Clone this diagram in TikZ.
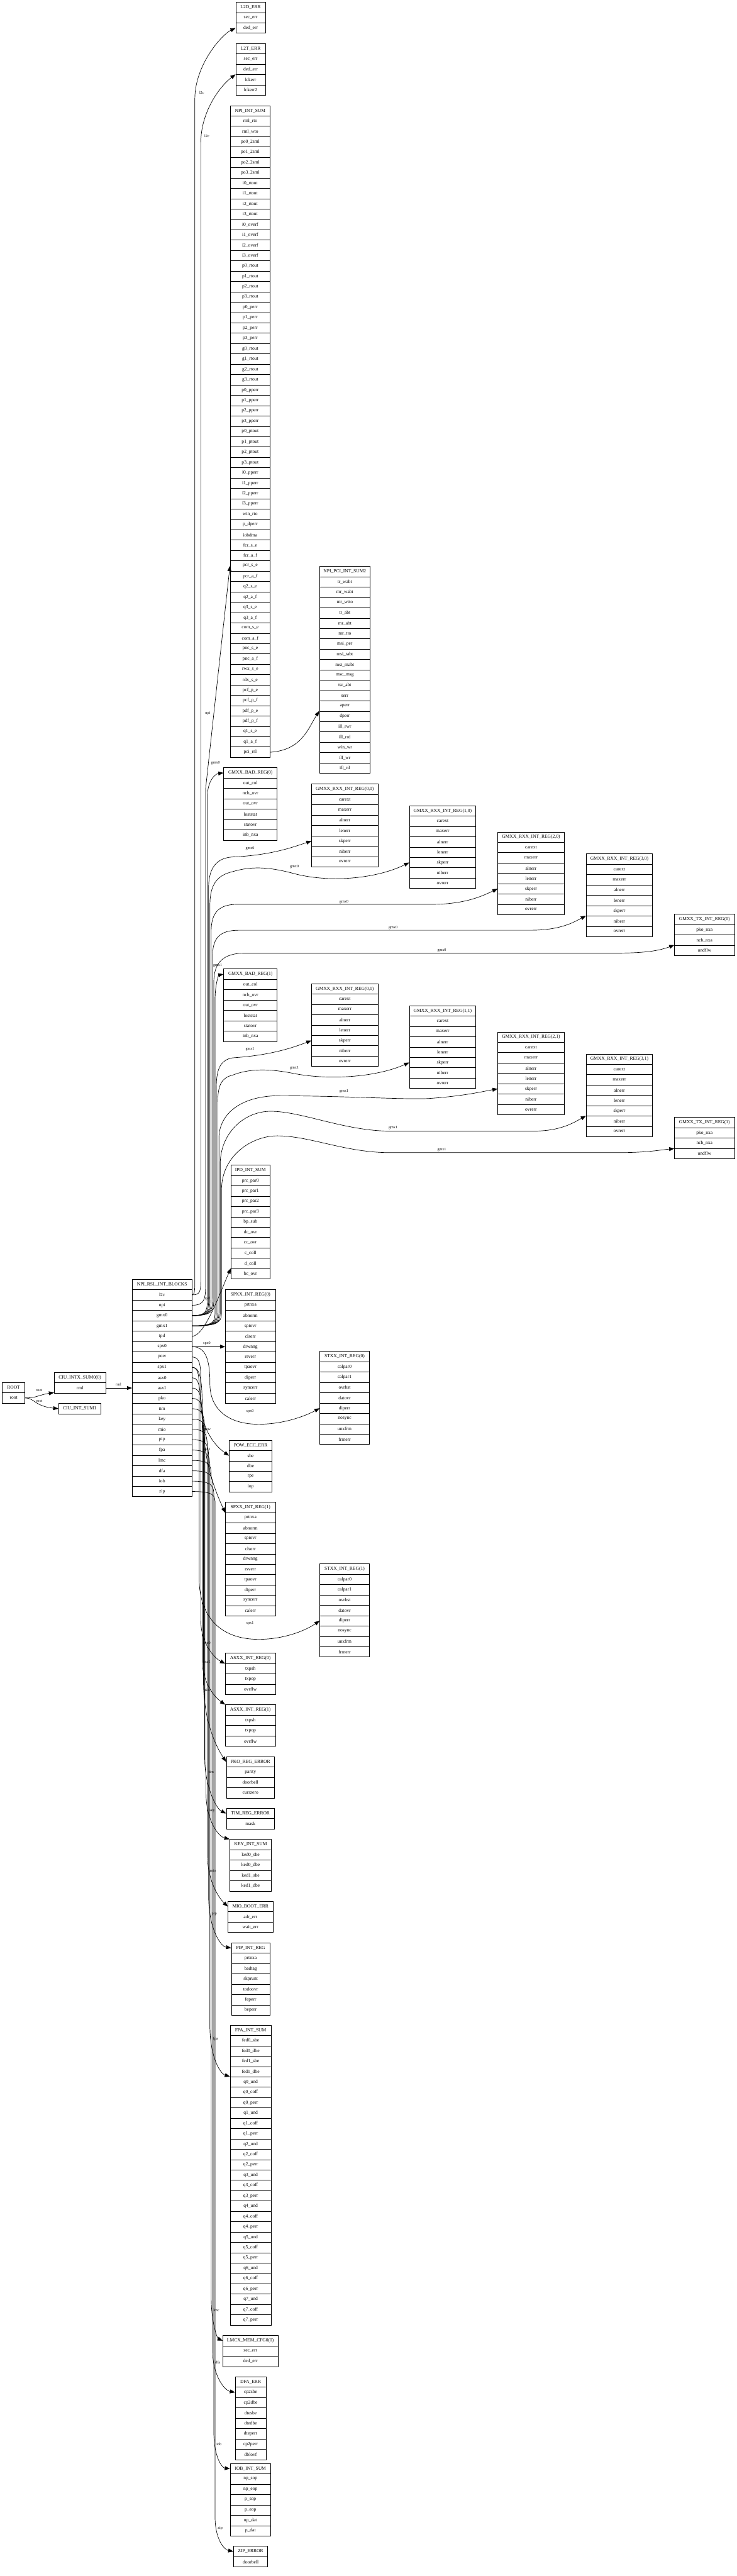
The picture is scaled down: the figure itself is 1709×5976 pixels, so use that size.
\documentclass[tikz,border=0pt]{standalone}
\usepackage{fontspec}
\setmainfont{Liberation Serif}
\usetikzlibrary{arrows.meta,calc}
\tikzset{
  rowbox/.style={draw, line width=0.5pt, minimum height=12pt, inner sep=0pt, font=\fontsize{5.5}{6}\selectfont},
  conn/.style={line width=0.5pt, -{Triangle[length=6pt,width=4.5pt]}},
  elab/.style={font=\fontsize{4.5}{5}\selectfont, inner sep=0pt},
}
\newcommand\recnode[5]{%
  \foreach \lab [count=\i from 0] in {#5} {%
    \node[rowbox, minimum width=#4*0.5pt] (#1-\i) at (#2,{#3+12+24*\i}) {\lab};
  }%
}
\begin{document}
\begin{tikzpicture}[x=0.5pt,y=-0.5pt]
\useasboundingbox (0,0) rectangle (1709,5976);
\fill[white] (0,0) rectangle (1709,5976);
% ---------- nodes ----------
\recnode{root}{31.5}{3207}{53}{ROOT,root}
\recnode{ciuz}{185.5}{3184}{119}{CIU\_INTX\_SUM0(0),rml}
\recnode{ciuo}{185}{3256}{98}{CIU\_INT\_SUM1}
\recnode{m}{376}{2968}{138}{NPI\_RSL\_INT\_BLOCKS,l2c,npi,gmx0,gmx1,ipd,spx0,pow,spx1,asx0,asx1,pko,tim,key,mio,pip,fpa,lmc,dfa,iob,zip}
\recnode{ltd}{581.5}{5}{69}{L2D\_ERR,sec\_err,ded\_err}
\recnode{ltt}{581.5}{101}{69}{L2T\_ERR,sec\_err,ded\_err,lckerr,lckerr2}
\recnode{npi}{580.5}{245}{93}{NPI\_INT\_SUM,rml\_rto,rml\_wto,po0\_2sml,po1\_2sml,po2\_2sml,po3\_2sml,i0\_rtout,i1\_rtout,i2\_rtout,i3\_rtout,i0\_overf,i1\_overf,i2\_overf,i3\_overf,p0\_rtout,p1\_rtout,p2\_rtout,p3\_rtout,p0\_perr,p1\_perr,p2\_perr,p3\_perr,g0\_rtout,g1\_rtout,g2\_rtout,g3\_rtout,p0\_pperr,p1\_pperr,p2\_pperr,p3\_pperr,p0\_ptout,p1\_ptout,p2\_ptout,p3\_ptout,i0\_pperr,i1\_pperr,i2\_pperr,i3\_pperr,win\_rto,p\_dperr,iobdma,fcr\_s\_e,fcr\_a\_f,pcr\_s\_e,pcr\_a\_f,q2\_s\_e,q2\_a\_f,q3\_s\_e,q3\_a\_f,com\_s\_e,com\_a\_f,pnc\_s\_e,pnc\_a\_f,rwx\_s\_e,rdx\_s\_e,pcf\_p\_e,pcf\_p\_f,pdf\_p\_e,pdf\_p\_f,q1\_s\_e,q1\_a\_f,pci\_rsl}
\recnode{nps}{800}{1314}{118}{NPI\_PCI\_INT\_SUM2,tr\_wabt,mr\_wabt,mr\_wtto,tr\_abt,mr\_abt,mr\_tto,msi\_per,msi\_tabt,msi\_mabt,msc\_msg,tsr\_abt,serr,aperr,dperr,ill\_rwr,ill\_rrd,win\_wr,ill\_wr,ill\_rd}
\recnode{bado}{581}{1781}{124}{GMXX\_BAD\_REG(0),out\_col,ncb\_ovr,out\_ovr,loststat,statovr,inb\_nxa}
\recnode{rOO}{800}{1819}{154}{{GMXX\_RXX\_INT\_REG(0,0)},carext,maxerr,alnerr,lenerr,skperr,niberr,ovrerr}
\recnode{rIO}{1027}{1869}{154}{{GMXX\_RXX\_INT\_REG(1,0)},carext,maxerr,alnerr,lenerr,skperr,niberr,ovrerr}
\recnode{rIIO}{1232}{1930}{154}{{GMXX\_RXX\_INT\_REG(2,0)},carext,maxerr,alnerr,lenerr,skperr,niberr,ovrerr}
\recnode{rIIIO}{1437}{1981}{154}{{GMXX\_RXX\_INT\_REG(3,0)},carext,maxerr,alnerr,lenerr,skperr,niberr,ovrerr}
\recnode{txO}{1634.5}{2121}{139}{GMXX\_TX\_INT\_REG(0),pko\_nxa,ncb\_nxa,undflw}
\recnode{badi}{581}{2248}{124}{GMXX\_BAD\_REG(1),out\_col,ncb\_ovr,out\_ovr,loststat,statovr,inb\_nxa}
\recnode{rOI}{800}{2282}{154}{{GMXX\_RXX\_INT\_REG(0,1)},carext,maxerr,alnerr,lenerr,skperr,niberr,ovrerr}
\recnode{rII}{1027}{2333}{154}{{GMXX\_RXX\_INT\_REG(1,1)},carext,maxerr,alnerr,lenerr,skperr,niberr,ovrerr}
\recnode{rIII}{1232}{2394}{154}{{GMXX\_RXX\_INT\_REG(2,1)},carext,maxerr,alnerr,lenerr,skperr,niberr,ovrerr}
\recnode{rIIII}{1437}{2445}{154}{{GMXX\_RXX\_INT\_REG(3,1)},carext,maxerr,alnerr,lenerr,skperr,niberr,ovrerr}
\recnode{txI}{1634.5}{2592}{139}{GMXX\_TX\_INT\_REG(1),pko\_nxa,ncb\_nxa,undflw}
\recnode{ipd}{581}{2703}{90}{IPD\_INT\_SUM,prc\_par0,prc\_par1,prc\_par2,prc\_par3,bp\_sub,dc\_ovr,cc\_ovr,c\_coll,d\_coll,bc\_ovr}
\recnode{spxO}{581}{2992}{116}{SPXX\_INT\_REG(0),prtnxa,abnorm,spiovr,clserr,drwnng,rsverr,tpaovr,diperr,syncerr,calerr}
\recnode{stxO}{799.5}{3135}{115}{STXX\_INT\_REG(0),calpar0,calpar1,ovrbst,datovr,diperr,nosync,unxfrm,frmerr}
\recnode{pow}{581.5}{3341}{99}{POW\_ECC\_ERR,sbe,dbe,rpe,iop}
\recnode{spxI}{581}{3485}{116}{SPXX\_INT\_REG(1),prtnxa,abnorm,spiovr,clserr,drwnng,rsverr,tpaovr,diperr,syncerr,calerr}
\recnode{stxI}{799.5}{3628}{115}{STXX\_INT\_REG(1),calpar0,calpar1,ovrbst,datovr,diperr,nosync,unxfrm,frmerr}
\recnode{asxO}{581}{3835}{116}{ASXX\_INT\_REG(0),txpsh,txpop,ovrflw}
\recnode{asxI}{581}{3955}{116}{ASXX\_INT\_REG(1),txpsh,txpop,ovrflw}
\recnode{pko}{581}{4075}{112}{PKO\_REG\_ERROR,parity,doorbell,currzero}
\recnode{tim}{581}{4195}{112}{TIM\_REG\_ERROR,mask}
\recnode{key}{581.5}{4267}{97}{KEY\_INT\_SUM,ked0\_sbe,ked0\_dbe,ked1\_sbe,ked1\_dbe}
\recnode{mio}{581}{4411}{104}{MIO\_BOOT\_ERR,adr\_err,wait\_err}
\recnode{pip}{581.5}{4507}{89}{PIP\_INT\_REG,prtnxa,badtag,skprunt,todoovr,feperr,beperr}
\recnode{fpa}{581.5}{4698}{95}{FPA\_INT\_SUM,fed0\_sbe,fed0\_dbe,fed1\_sbe,fed1\_dbe,q0\_und,q0\_coff,q0\_perr,q1\_und,q1\_coff,q1\_perr,q2\_und,q2\_coff,q2\_perr,q3\_und,q3\_coff,q3\_perr,q4\_und,q4\_coff,q4\_perr,q5\_und,q5\_coff,q5\_perr,q6\_und,q6\_coff,q6\_perr,q7\_und,q7\_coff,q7\_perr}
\recnode{lmc}{581}{5418}{128}{LMCX\_MEM\_CFG0(0),sec\_err,ded\_err}
\recnode{dfa}{581.5}{5514}{71}{DFA\_ERR,cp2sbe,cp2dbe,dtesbe,dtedbe,dteperr,cp2perr,dblovf}
\recnode{iob}{581}{5715}{94}{IOB\_INT\_SUM,np\_sop,np\_eop,p\_sop,p\_eop,np\_dat,p\_dat}
\recnode{zip}{581.5}{5907}{79}{ZIP\_ERROR,doorbell}
% ---------- connectors ----------
\draw[conn] (root-1.east) .. controls (85,3243) and (90,3236) .. ($(ciuz-1.south west)+(0,-2)$);
\draw[conn] (root-1.east) .. controls (80,3243) and (80,3262) .. (ciuo-0.west);
\draw[conn] (ciuz-1.east) -- (m-10.west);
% up
\draw[conn] (m-1.east) .. controls (452,3004) and (452,2995) .. (452,2960) -- (452,230) .. controls (452,150) and (515,80) .. (ltd-2.west);
\draw[conn] (m-1.east) .. controls (466,3004) and (466,2995) .. (466,2960) -- (466,330) .. controls (466,260) and (510,200) .. (ltt-3.north west);
\draw[conn] (m-2.east) .. controls (474,3028) and (477,3015) .. (477,2980) -- (477,1830) -- (npi-44.west);
\draw[conn] (npi-62.east) .. controls (700,1740) and (715,1690) .. (nps-14.north west);
\draw[conn] (m-3.east) .. controls (481,3052) and (481,3040) .. (481,3010) -- (481,1850) .. controls (481,1810) and (500,1795) .. (bado-0.west);
\draw[conn] (m-3.east) .. controls (484,3052) and (484,3040) .. (484,3010) -- (484,2060) .. controls (484,2010) and (505,1990) .. (540,1988) .. controls (630,1984) and (680,1965) .. (rOO-5.west);
\draw[conn] (m-3.east) .. controls (487,3052) and (487,3040) .. (487,3010) -- (487,2100) .. controls (487,2050) and (505,2030) .. (540,2022) .. controls (580,2010) and (620,2010) .. (680,2026) .. controls (760,2048) and (870,2040) .. (rIO-5.west);
\draw[conn] (m-3.east) .. controls (490,3052) and (490,3040) .. (490,3010) -- (490,2160) .. controls (490,2115) and (510,2098) .. (550,2098) -- (1000,2098) .. controls (1080,2098) and (1120,2078) .. (rIIO-5.west);
\draw[conn] (m-3.east) .. controls (493,3052) and (493,3040) .. (493,3010) -- (493,2220) .. controls (493,2175) and (510,2158) .. (555,2158) -- (1230,2158) .. controls (1300,2158) and (1330,2140) .. (rIIIO-6.north west);
\draw[conn] (m-3.east) .. controls (496,3052) and (496,3040) .. (496,3010) -- (496,2280) .. controls (496,2235) and (515,2211) .. (570,2211) -- (1430,2211) .. controls (1500,2211) and (1530,2205) .. (txO-3.north west);
\draw[conn] (m-4.east) .. controls (499,3076) and (499,3065) .. (499,3040) -- (499,2320) .. controls (499,2280) and (508,2262) .. (badi-0.west);
\draw[conn] (m-4.east) .. controls (502,3076) and (502,3065) .. (502,3040) -- (502,2520) .. controls (502,2475) and (515,2458) .. (540,2454) .. controls (630,2448) and (680,2430) .. (rOI-5.west);
\draw[conn] (m-4.east) .. controls (505,3076) and (505,3065) .. (505,3040) -- (505,2560) .. controls (505,2515) and (515,2500) .. (540,2494) .. controls (575,2480) and (620,2478) .. (680,2490) .. controls (760,2506) and (870,2500) .. (rII-5.west);
\draw[conn] (m-4.east) .. controls (508,3076) and (508,3065) .. (508,3040) -- (508,2640) .. controls (508,2590) and (550,2545) .. (640,2542) .. controls (800,2542) and (950,2552) .. (1000,2548) .. controls (1080,2542) and (1120,2532) .. (rIII-5.west);
\draw[conn] (m-4.east) .. controls (511,3076) and (511,3065) .. (511,3040) -- (511,2700) .. controls (511,2630) and (565,2578) .. (628,2578) .. controls (700,2578) and (800,2624) .. (906,2624) -- (1237,2624) .. controls (1300,2624) and (1330,2605) .. (rIIII-6.north west);
\draw[conn] (m-4.east) .. controls (514,3076) and (514,3065) .. (514,3040) -- (514,2760) .. controls (514,2680) and (585,2635) .. (643,2635) .. controls (720,2635) and (800,2674) .. (906,2674) -- (1432,2674) .. controls (1500,2674) and (1530,2668) .. (txI-2.south west);
\draw[conn] (m-5.east) .. controls (475,3100) and (510,3000) .. (ipd-10.north west);
% right / down
\draw[conn] (m-6.east) -- (spxO-5.west);
\draw[conn] (m-6.east) .. controls (480,3124) and (487,3160) .. (487,3210) .. controls (487,3270) and (530,3304) .. (600,3304) .. controls (660,3304) and (710,3284) .. (stxO-5.west);
\draw[conn] (m-7.east) .. controls (475,3148) and (462,3200) .. (466,3260) .. controls (470,3320) and (500,3355) .. (pow-1.west);
\draw[conn] (m-8.east) .. controls (472,3172) and (468,3230) .. (470,3300) .. controls (475,3400) and (500,3460) .. (spxI-0.south west);
\draw[conn] (m-8.east) .. controls (466,3172) and (462,3210) .. (462,3280) -- (462,3660) .. controls (462,3760) and (520,3803) .. (600,3803) .. controls (660,3803) and (710,3782) .. (stxI-5.west);
\draw[conn] (m-9.east) .. controls (466,3196) and (466,3230) .. (466,3320) -- (466,3760) .. controls (466,3810) and (495,3845) .. (asxO-0.south west);
\draw[conn] (m-10.east) .. controls (469,3220) and (469,3250) .. (469,3330) -- (469,3850) .. controls (469,3900) and (495,3935) .. (asxI-0.north west);
\draw[conn] (m-11.east) .. controls (472,3244) and (472,3270) .. (472,3340) -- (472,3900) .. controls (472,3990) and (500,4050) .. (pko-0.west);
\draw[conn] (m-12.east) .. controls (475,3268) and (475,3290) .. (475,3340) -- (475,4080) .. controls (475,4140) and (500,4195) .. (tim-0.west);
\draw[conn] (m-13.east) .. controls (478,3292) and (478,3310) .. (478,3350) -- (478,4160) .. controls (478,4220) and (505,4260) .. (key-0.north west);
\draw[conn] (m-14.east) .. controls (481,3316) and (481,3330) .. (481,3370) -- (481,4300) .. controls (481,4360) and (505,4400) .. (mio-0.west);
\draw[conn] (m-15.east) .. controls (484,3340) and (484,3355) .. (484,3390) -- (484,4400) .. controls (484,4470) and (510,4515) .. (pip-0.west);
\draw[conn] (m-16.east) .. controls (487,3364) and (487,3380) .. (487,3410) -- (487,4700) .. controls (487,4770) and (510,4810) .. (fpa-5.north west);
\draw[conn] (m-17.east) .. controls (490,3388) and (490,3400) .. (490,3430) -- (490,5330) .. controls (490,5390) and (505,5425) .. (lmc-0.west);
\draw[conn] (m-18.east) .. controls (493,3412) and (493,3425) .. (493,3450) -- (493,5450) .. controls (493,5510) and (520,5545) .. (dfa-1.west);
\draw[conn] (m-19.east) .. controls (496,3436) and (496,3450) .. (496,3470) -- (496,5640) .. controls (496,5700) and (515,5725) .. (iob-0.west);
\draw[conn] (m-20.east) .. controls (499,3460) and (499,3470) .. (499,3490) -- (499,5840) .. controls (499,5890) and (520,5915) .. (zip-0.west);
% ---------- labels ----------
\node[elab] (la1) at (91,3225) {root};
\node[elab] (la2) at (91,3251) {root};
\node[elab] (la3) at (275,3211) {rml};
\node[elab] (la4) at (468,215) {l2c};
\node[elab] (la5) at (480,315) {l2c};
\node[elab] (la6) at (482,1655) {npi};
\node[elab] (la7) at (500,1770) {gmx0};
\node[elab] (g01) at (580,1968) {gmx0};
\node[elab] (g02) at (683,2011) {gmx0};
\node[elab] (g03) at (798,2092) {gmx0};
\node[elab] (g04) at (912,2152) {gmx0};
\node[elab] (g05) at (1025,2204) {gmx0};
\node[elab] (la8) at (505,2240) {gmx1};
\node[elab] (g11) at (580,2434) {gmx1};
\node[elab] (g12) at (683,2478) {gmx1};
\node[elab] (g13) at (798,2532) {gmx1};
\node[elab] (g14) at (912,2616) {gmx1};
\node[elab] (g15) at (1025,2667) {gmx1};
\node[elab] (la9) at (481,3013) {ipd};
\node[elab] (la10) at (480,3117) {spx0};
\node[elab] (la11) at (580,3274) {spx0};
\node[elab] (la12) at (481,3317) {pow};
\node[elab] (la13) at (480,3363) {spx1};
\node[elab] (la14) at (580,3766) {spx1};
\node[elab] (la15) at (480,3811) {asx0};
\node[elab] (la16) at (480,3855) {asx1};
\node[elab] (la17) at (480,3921) {pko};
\node[elab] (la18) at (490,4110) {tim};
\node[elab] (la19) at (492,4200) {key};
\node[elab] (la20) at (494,4340) {mio};
\node[elab] (la21) at (497,4440) {pip};
\node[elab] (la22) at (500,4730) {fpa};
\node[elab] (la23) at (502,5360) {lmc};
\node[elab] (la24) at (505,5480) {dfa};
\node[elab] (la25) at (508,5670) {iob};
\node[elab] (la26) at (511,5865) {zip};
\end{tikzpicture}
\end{document}
